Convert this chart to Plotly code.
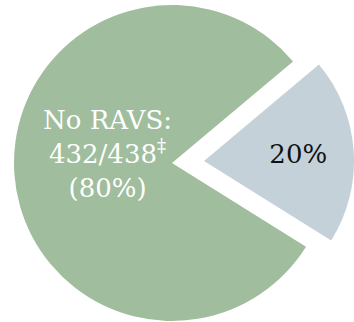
import plotly.graph_objects as go

# Data
labels = ["RAVS", "No RAVS"]
values = [20, 80]              # percent
no_ravs_n = 432
no_ravs_total = 438
note_mark = "‡"

GREEN = "#A0BD9D"
GREY = "#C5D1D9"
CLEAR = "rgba(0,0,0,0)"
FONT = "DejaVu Serif"

W, H = 354, 322

fig = go.Figure()

# Main pie (green slice visible)
fig.add_trace(go.Pie(
    labels=labels, values=values, sort=False, direction="clockwise", rotation=50,
    marker=dict(colors=[CLEAR, GREEN], line=dict(width=0)),
    textinfo="none", textposition="none", hoverinfo="label+percent", showlegend=False,
    domain=dict(x=[14 / W, 330 / W], y=[1 - 321 / H, 1 - 5 / H]),
))

# Exploded slice (grey)
fig.add_trace(go.Pie(
    labels=labels, values=values, sort=False, direction="clockwise", rotation=50,
    marker=dict(colors=[GREY, CLEAR], line=dict(width=0)),
    texttemplate="%{percent:.0%}", textposition=["inside", "none"],
    insidetextorientation="horizontal",
    textfont=dict(family=FONT, size=26, color="#111111"),
    hoverinfo="label+percent", showlegend=False,
    domain=dict(x=[54 / W, 1.0], y=[1 - 311 / H, 1 - 11 / H]),
))

label_text = (f"{labels[1]}:<br>{no_ravs_n}/{no_ravs_total}"
              f"<sup>{note_mark}</sup><br>({values[1]}%)")
fig.add_annotation(
    text=label_text, x=107.5 / W, y=1 - 154 / H, xref="paper", yref="paper",
    xanchor="center", yanchor="middle", showarrow=False, align="center",
    font=dict(family=FONT, size=26, color="white"),
)

fig.update_layout(
    width=W, height=H, margin=dict(l=0, r=0, t=0, b=0),
    paper_bgcolor="white", plot_bgcolor="white",
)

fig.write_html("out.html")
